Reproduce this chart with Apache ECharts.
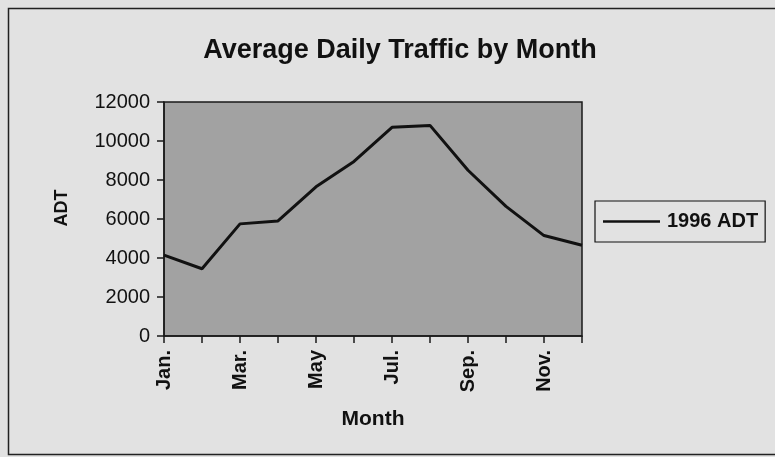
<!DOCTYPE html>
<html>
<head>
<meta charset="utf-8">
<style>
  html, body { margin: 0; padding: 0; background: #e2e2e2; }
  #chart { width: 775px; height: 457px; }
</style>
<script src="https://cdn.jsdelivr.net/npm/echarts@6/dist/echarts.min.js"></script>
</head>
<body>
<div id="chart"></div>
<script>
// Monthly average daily traffic counts
const months = ['Jan.', 'Feb.', 'Mar.', 'Apr.', 'May', 'Jun.', 'Jul.', 'Aug.', 'Sep.', 'Oct.', 'Nov.', 'Dec.'];
const adt1996 = [4150, 3450, 5750, 5900, 7650, 8950, 10700, 10800, 8500, 6650, 5150, 4650];
const seriesName = '1996 ADT';
const yTicks = { min: 0, max: 12000, interval: 2000 };

const chart = echarts.init(document.getElementById('chart'), null, { renderer: 'canvas' });
const font = 'Liberation Sans, Arial, sans-serif';

chart.setOption({
  backgroundColor: '#e2e2e2',
  animation: false,
  title: {
    text: 'Average Daily Traffic by Month',
    left: 395,
    textAlign: 'center',
    top: 32,
    textStyle: { fontFamily: font, fontWeight: 'bold', fontSize: 27, color: '#111' }
  },
  graphic: [{
    type: 'rect',
    shape: { x: 8.5, y: 8.5, width: 780, height: 446 },
    style: { fill: 'none', stroke: '#222', lineWidth: 1.5 },
    silent: true
  }, {
    type: 'text',
    x: 62,
    y: 208,
    rotation: Math.PI / 2,
    style: {
      text: 'ADT',
      fontFamily: font,
      fontWeight: 'bold',
      fontSize: 18,
      fill: '#111',
      align: 'center',
      verticalAlign: 'middle'
    },
    silent: true
  }],
  legend: {
    left: 595,
    top: 201,
    orient: 'vertical',
    borderColor: '#111',
    borderWidth: 1.2,
    borderRadius: 0,
    padding: [10, 7, 10, 8],
    icon: 'rect',
    itemWidth: 57,
    itemHeight: 2.5,
    itemGap: 0,
    textStyle: { fontFamily: font, fontWeight: 'bold', fontSize: 20, lineHeight: 21, color: '#111', padding: [0, 0, 0, 2] },
    data: [seriesName]
  },
  grid: {
    left: 164,
    top: 102,
    right: 193,
    bottom: 121,
    show: true,
    backgroundColor: '#a2a2a2',
    borderColor: '#1a1a1a',
    borderWidth: 1.5
  },
  xAxis: {
    type: 'category',
    data: months,
    boundaryGap: false,
    name: 'Month',
    nameLocation: 'middle',
    nameGap: 73,
    nameTextStyle: { fontFamily: font, fontWeight: 'bold', fontSize: 21, color: '#111' },
    axisLine: { lineStyle: { color: '#1a1a1a', width: 1.5 } },
    axisTick: { alignWithLabel: true, interval: 0, length: 7, lineStyle: { color: '#1a1a1a', width: 1.5 } },
    axisLabel: {
      interval: 1,
      rotate: 90,
      margin: 14,
      fontFamily: font,
      fontWeight: 'bold',
      fontSize: 20,
      color: '#111'
    },
    splitLine: { show: false }
  },
  yAxis: {
    type: 'value',
    min: yTicks.min,
    max: yTicks.max,
    interval: yTicks.interval,
    axisLine: { show: true, lineStyle: { color: '#1a1a1a', width: 1.5 } },
    axisTick: { show: true, length: 7, lineStyle: { color: '#1a1a1a', width: 1.5 } },
    axisLabel: {
      margin: 14,
      fontFamily: font,
      fontSize: 20,
      color: '#111',
      formatter: (v) => String(v)
    },
    splitLine: { show: false }
  },
  series: [{
    name: seriesName,
    type: 'line',
    data: adt1996,
    symbol: 'none',
    lineStyle: { color: '#111', width: 3 },
    itemStyle: { color: '#111' }
  }]
});
</script>
</body>
</html>
